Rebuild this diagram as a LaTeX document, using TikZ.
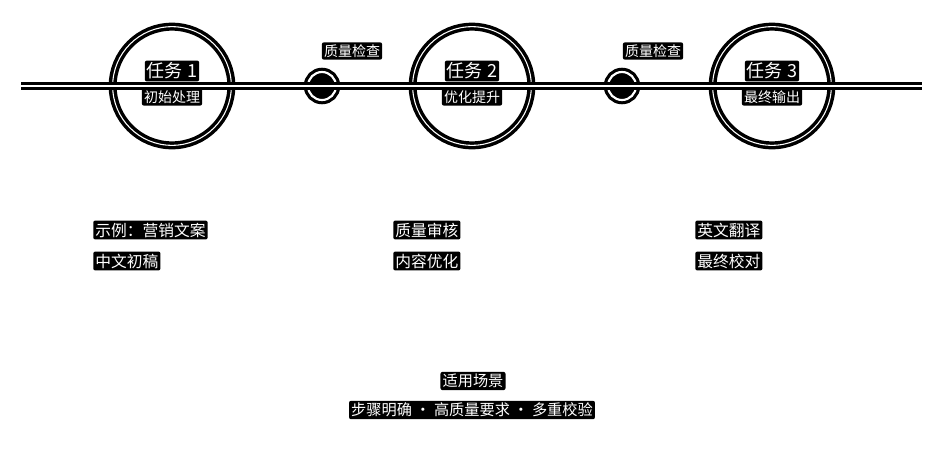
\documentclass[tikz,border=0pt]{standalone}
\usepackage{fontspec}
\setmainfont{Noto Sans CJK SC}
\usetikzlibrary{positioning}
\tikzset{
  halo/.style={fill=black,text=white,inner sep=1.6pt,rounded corners=1.5pt},
  tasktitle/.style={halo,font=\fontsize{13.5}{15}\selectfont},
  tasksub/.style={halo,font=\fontsize{10.5}{12}\selectfont},
  checklabel/.style={halo,font=\fontsize{10.5}{12}\selectfont},
  note/.style={halo,font=\fontsize{11.8}{13}\selectfont,anchor=west},
  scene/.style={halo,font=\fontsize{11.4}{13}\selectfont},
  taskring/.style={circle,draw=black,line width=2.6pt,double=white,double distance=0.8pt,minimum size=89pt,inner sep=0pt},
  checkring/.style={circle,draw=black,fill=black,line width=2.4pt,double=white,double distance=1.6pt,minimum size=21pt,inner sep=0pt},
  track/.style={draw=black,line width=2.7pt,double=white,double distance=0.9pt}
}
\begin{document}
\begin{tikzpicture}[x=0.75pt,y=-0.75pt]
  \useasboundingbox[fill=white] (0,0) rectangle (939,458);

  \node[taskring] (t1) at (172,86) {};
  \node[taskring] (t2) at (472,86) {};
  \node[taskring] (t3) at (772,86) {};
  \node[checkring] (c1) at (322,86) {};
  \node[checkring] (c2) at (622,86) {};

  \coordinate (trackL) at (21,86);
  \coordinate (trackR) at (922,86);
  \draw[track] (trackL) -- (trackR);

  \node[tasktitle] (t1a) at (172,71) {任务 1};
  \node[tasksub] (t1b) at (172,97) {初始处理};
  \node[tasktitle] (t2a) at (472,71) {任务 2};
  \node[tasksub] (t2b) at (472,97) {优化提升};
  \node[tasktitle] (t3a) at (772,71) {任务 3};
  \node[tasksub] (t3b) at (772,97) {最终输出};

  \node[checklabel] (c1l) at (352,51) {质量检查};
  \node[checklabel] (c2l) at (653,51) {质量检查};

  \node[note] (n1a) at (93,230) {示例：营销文案};
  \node[note] (n1b) at (93,261) {中文初稿};
  \node[note] (n2a) at (393,230) {质量审核};
  \node[note] (n2b) at (393,261) {内容优化};
  \node[note] (n3a) at (695,230) {英文翻译};
  \node[note] (n3b) at (695,261) {最终校对};

  \node[scene] (s1) at (473,381) {适用场景};
  \node[scene] (s2) at (472,410) {步骤明确 · 高质量要求 · 多重校验};
\end{tikzpicture}
\end{document}
